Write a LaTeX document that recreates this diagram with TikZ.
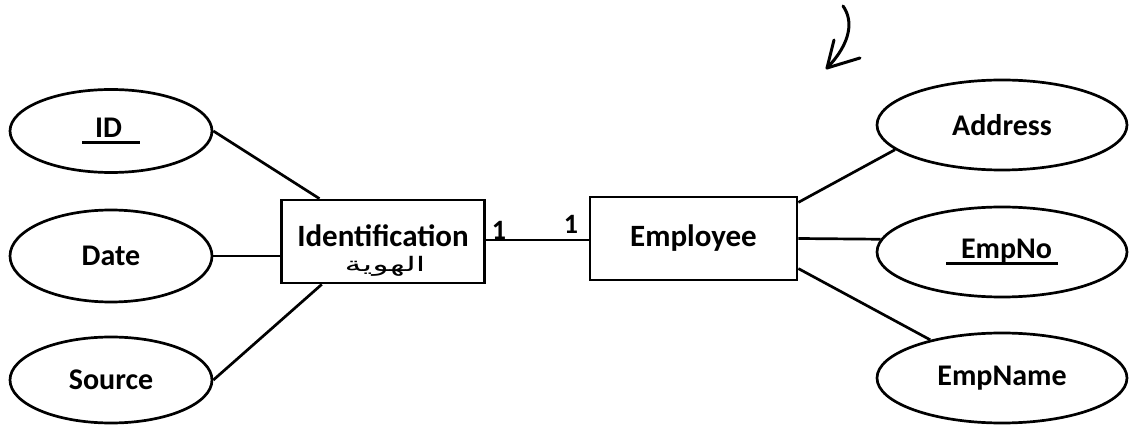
\documentclass[tikz,border=0pt]{standalone}
\usepackage{fontspec}
\setmainfont{Carlito}
\newfontfamily\arabicfont[Script=Arabic]{DejaVu Sans}
\TeXXeTstate=1
\usetikzlibrary{shapes.geometric}
% thick underline for key attributes: #1 extra left, #2 extra right
\newcommand\keyul[3]{\setbox0\hbox{#3}\hbox{\hspace{#1}\rlap{\hspace{-#1}\rule[-6pt]{\dimexpr\wd0+#1+#2\relax}{2.8pt}}\box0\hspace{#2}}}
\begin{document}
\begin{tikzpicture}[x=1pt,y=-1pt,
  line width=2.7pt,
  attr/.style={ellipse,draw,minimum width=202pt,minimum height=88pt,inner sep=0pt,
    font=\fontsize{30}{32}\selectfont\bfseries},
  entity/.style={rectangle,draw,minimum width=203pt,minimum height=83pt,inner sep=0pt,
    font=\fontsize{31}{32}\selectfont\bfseries,align=center},
  entitytext/.style={inner sep=0pt,font=\fontsize{31}{32}\selectfont\bfseries},
  card/.style={font=\fontsize{28}{30}\selectfont\bfseries,inner sep=0pt}]
\useasboundingbox[fill=white] (0,0) rectangle (1129,427);

% entities
\node[entity] (ident) at (383,241.5) {};
\node[entitytext] (identname) at (383,236) {Identification};
\node[inner sep=0pt] (identar) at (385,266)
  {\arabicfont\fontsize{20}{20}\selectfont\scalebox{1.7}[1]{\beginR الهوية\endR}};
\node[entity,minimum width=207pt] (emp) at (693.5,238.5) {Employee};

% attributes of Identification
\node[attr,minimum height=83pt] (id) at (111,131) {\keyul{13pt}{18pt}{ID}};
\node[attr,minimum height=92pt] (date) at (111,256) {Date};
\node[attr,minimum height=86pt] (source) at (111,380) {Source};

% attributes of Employee
\node[attr,minimum width=250pt,minimum height=90pt] (address) at (1002,125) {Address};
\node[attr,minimum width=250pt,minimum height=90pt] (empno) at (1002,252) {\keyul{15pt}{6pt}{EmpNo}};
\node[attr,minimum width=250pt,minimum height=90pt] (empname) at (1002,378) {EmpName};

% attribute links
\draw (id.east) -- (ident.146);
\draw (date.east) -- (date.east -| ident.west);
\draw (source.east) -- (ident.215);
\draw (emp.19) -- (address.193);
\draw (emp.east) -- (empno.174);
\draw (emp.-16) -- (empname.152);

% relationship with cardinalities
\draw (ident.east |- 0,240) coordinate (relL) -- (emp.west |- 0,240) coordinate (relR);
\node[card] (cardL) at (499,230) {1};
\node[card] (cardR) at (571,224) {1};

% hand-drawn pointer
\coordinate (ptail) at (843,6);
\coordinate (ptip) at (827,68);
\draw[line cap=round,line join=round,line width=3pt]
  (ptail) .. controls (853,20) and (852,42) .. (ptip);
\draw[line cap=round,line join=round,line width=3pt]
  (834,40) -- (ptip) -- (860,58);
\end{tikzpicture}
\end{document}
